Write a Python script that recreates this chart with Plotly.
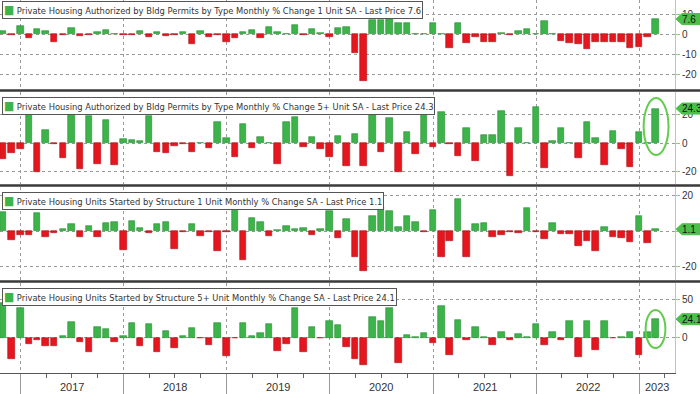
import plotly.graph_objects as go
from plotly.subplots import make_subplots
import pandas as pd

# ---------------- data ----------------
months = pd.date_range("2016-10-01", periods=77, freq="MS") + pd.offsets.MonthEnd(0)

permits_1unit = [1.5, -0.3, 4.3, -2.0, 2.5, 1.8, -3.7, -0.5, 3.0, -1.0, -0.3, 1.2, 2.2, 0.2, -0.2, -0.5,
                 1.7, -1.3, 1.3, -1.0, -0.3, 1.0, -5.0, 1.5, -1.3, -0.2, -4.0, -1.7, 1.0, 2.2, -2.0, 3.5,
                 1.0, 0.2, 4.5, -0.3, 2.5, 0.7, -1.3, 3.0, 3.5, -9.5, -23.3, 7.2, 7.2, 7.5, 5.5, 5.8,
                 0.2, 0.2, 5.5, 0.2, -6.7, 5.8, -4.5, -1.2, -4.0, -4.0, 0.5, -0.5, 1.7, 2.7, 0.2, 6.7,
                 0.2, -3.3, -4.5, -5.0, -7.5, -3.7, -3.7, -3.7, -3.7, -7.0, -6.2, -1.2, 7.6]

permits_5plus = [-11.3, -6.6, -4.0, 25.0, -20.0, 9.0, -0.3, -10.3, 24.0, -18.0, 19.3, -14.6, 16.5, -15.3,
                 2.8, 2.4, 1.6, 19.3, -5.9, -7.0, -1.6, -0.3, -6.1, 0.3, -3.0, 14.6, 4.0, -9.9, 13.6,
                 -3.0, 4.5, 0.2, -14.6, 14.6, 18.4, -2.8, 4.5, -4.0, -9.4, 4.9, -16.0, 6.4, -15.8, 22.0,
                 -5.9, 17.6, -20.0, 8.2, -7.5, 22.0, -2.4, 21.6, -0.5, -8.9, 11.0, -12.2, 5.9, 5.9, 22.4,
                 -23.0, 11.0, 0.3, 25.2, -17.6, 1.9, 10.6, 0.2, -10.1, 14.8, 4.0, -15.3, 8.7, -4.0,
                 -16.5, 8.2, 0.2, 24.3]

starts_1unit = [10.7, -4.9, -2.0, -2.0, 10.1, -3.2, -1.1, 1.1, 3.9, -3.2, 2.8, -3.2, 4.7, 5.3, -10.7, 6.0,
                2.0, -1.1, 3.9, 5.4, -10.1, -0.2, 3.9, -2.6, -0.2, -11.0, -0.2, 12.6, -16.1, 7.7, 5.0,
                -2.6, 0.5, 3.2, 1.5, 2.0, -2.3, 1.1, 11.1, -3.6, 6.9, -14.3, -22.3, 8.8, 13.5, 11.1, 2.6,
                8.3, 5.0, -0.2, 12.0, -14.3, -5.8, 18.2, -14.3, 4.1, 4.5, -3.4, -2.4, -0.2, -1.1, 13.3,
                -0.2, -4.5, 4.5, -1.7, -1.7, -8.3, -5.4, -10.9, 2.4, -3.2, -3.9, -6.2, 8.8, -6.8, 1.1]

starts_5plus = [45.0, -28.3, 38.3, -8.3, -3.0, -10.9, -10.9, 2.6, 20.9, -5.7, -18.7, 14.3, 11.3, -5.2, 2.6,
                19.6, -10.9, 17.4, -18.7, 9.1, -13.9, 2.6, 13.0, -1.0, -9.6, 18.7, -23.5, -0.5, 19.6,
                2.6, 5.7, 17.4, -17.4, -8.3, 38.3, -19.1, 14.3, -1.0, 22.2, 16.5, -12.6, -27.8, -35.7,
                26.5, 22.2, 38.3, -32.6, 3.5, 0.3, 5.7, -6.5, 41.7, -22.6, 23.0, -3.0, 13.5, 0.3, -9.6,
                7.8, -3.0, 4.3, 0.3, 17.8, -9.6, 7.0, -3.0, 21.3, -24.8, 21.3, -16.1, 22.2, -1.0, 0.3,
                7.8, -22.6, 7.0, 24.1]

titles = [
    "Private Housing Authorized by Bldg Permits by Type Monthly % Change 1 Unit SA - Last Price 7.6",
    "Private Housing Authorized by Bldg Permits by Type Monthly % Change 5+ Unit SA - Last Price 24.3",
    "Private Housing Units Started by Structure 1 Unit Monthly % Change SA - Last Price 1.1",
    "Private Housing Units Started by Structure 5+ Unit Monthly % Change SA - Last Price 24.1",
]
last_labels = ["7.6", "24.3", "1.1", "24.1"]
year_labels = ["2017", "2018", "2019", "2020", "2021", "2022", "2023"]
ytick_vals = [[10, 0, -10, -20], [20, 0, -20], [20, 0, -20], [50, 0]]
ytick_text = [["10", "0", "-10", "-20"], ["20", "0", "-20"], ["20", "", "-20"], ["50", "0"]]
series = [permits_1unit, permits_5plus, starts_1unit, starts_5plus]

# ---------------- styling / layout ----------------
W, H = 700, 394
ML, MR, MT, MB = 0, 25, 0, 21
PW, PH = W - ML - MR, H - MT - MB
GREEN = "#3cb44a"
RED = "#e5161e"
TAG = "#4cbf4a"
TEXT = "#333333"
FONT = "Liberation Sans Narrow, DejaVu Sans Condensed, Liberation Sans, sans-serif"

panel_px = [(0, 89), (92, 184), (187, 280), (283, 373)]
yranges = [[-27.35, 17.15], [-28.5, 35.9], [-27.5, 24.9], [-46, 71.2]]
xrange_ = ["2016-10-20", "2023-05-08"]
circle_panels = {1: (31.7, -8.2, 42, 46), 3: (36.0, -13.4, 35, 35)}

fig = make_subplots(rows=4, cols=1, shared_xaxes=True)

year_starts = [pd.Timestamp(f"{y}-01-01") for y in year_labels]

for k in range(4):
    vals = series[k]
    colors = [GREEN if v >= 0 else RED for v in vals]
    lcolors = ["#2a8a35" if v >= 0 else "#a80f15" for v in vals]
    fig.add_trace(go.Bar(x=months, y=vals, marker=dict(color=colors, line=dict(color=lcolors, width=0.6)),
                         width=23 * 86400000, showlegend=False, hoverinfo="x+y"), row=k + 1, col=1)
    t, b = panel_px[k]
    dom = [(PH - b) / PH, (PH - t) / PH]
    yname = "yaxis" if k == 0 else f"yaxis{k+1}"
    xname = "xaxis" if k == 0 else f"xaxis{k+1}"
    fig.layout[yname].update(domain=dom, range=yranges[k], side="right", tickvals=ytick_vals[k],
                             ticktext=ytick_text[k],
                             ticks="outside", ticklen=4, tickcolor="#8cc884", showline=True,
                             linecolor="#a8d8a0", linewidth=1, showgrid=True, gridcolor="#9a9a9a",
                             griddash="dot", gridwidth=1, zeroline=False,
                             tickfont=dict(size=10, color=TEXT, family="Liberation Sans, Arial, sans-serif"))
    fig.layout[xname].update(range=xrange_, type="date", tickvals=year_starts, showgrid=True,
                             gridcolor="#9a9a9a", griddash="dot", gridwidth=1, zeroline=False)
    if k < 3:
        fig.layout[xname].update(showticklabels=False, ticks="")
    else:
        fig.layout[xname].update(showticklabels=False, ticks="outside", ticklen=21, tickcolor="#999999",
                                 showline=True, linecolor="#555555", linewidth=1,
                                 minor=dict(ticks="outside", ticklen=4, dtick="M3", tick0="2017-01-01",
                                            tickcolor="#666666", showgrid=False))

    ppu = (b - t) / (yranges[k][1] - yranges[k][0])
    yref = "y" if k == 0 else f"y{k+1}"
    # legend box
    fig.add_annotation(xref="paper", yref="paper", x=2 / PW, y=(PH - t - (1 if k == 0 else 5)) / PH,
                       xanchor="left", yanchor="top", align="left", showarrow=False,
                       text=f'<span style="color:{GREEN};font-size:12px">■</span> ' + titles[k],
                       font=dict(size=9.3, color=TEXT, family=FONT),
                       bgcolor="white", bordercolor="#555555", borderwidth=1, borderpad=1)
    # last value tag
    v = vals[-1]
    hh = 5.5 / ppu
    x_tip, x_body, x_end = 676 / PW, 682 / PW, 701 / PW
    fig.add_shape(type="path", xref="paper", yref=yref,
                  path=f"M {x_tip} {v} L {x_body} {v+hh} L {x_end} {v+hh} L {x_end} {v-hh} L {x_body} {v-hh} Z",
                  fillcolor=TAG, line=dict(color=TAG, width=1), layer="above")
    fig.add_annotation(xref="paper", yref=yref, x=679.5 / PW, y=v, xanchor="left", yanchor="middle",
                       showarrow=False, text=last_labels[k],
                       font=dict(size=10, color="#111111", family="Liberation Sans, Arial, sans-serif"))
    if k in circle_panels:
        y0, y1, dl, dr = circle_panels[k]
        xref = "x" if k == 0 else f"x{k+1}"
        fig.add_shape(type="circle", xref=xref, yref=yref,
                      x0=months[-1] - pd.Timedelta(days=dl), x1=months[-1] + pd.Timedelta(days=dr),
                      y0=y1, y1=y0, line=dict(color="#62cc4e", width=2))

# panel separators
for ypx in [90.5, 185.5, 281.5]:
    fig.add_shape(type="line", xref="paper", yref="paper", x0=0, x1=W / PW, y0=(PH - ypx) / PH,
                  y1=(PH - ypx) / PH, line=dict(color="#3a3a3a", width=2.5), layer="above")

# year labels centered in visible portion of each year
x0r, x1r = pd.Timestamp(xrange_[0]), pd.Timestamp(xrange_[1])
for y in year_labels:
    a = max(pd.Timestamp(f"{y}-01-01"), x0r)
    bnd = min(pd.Timestamp(f"{int(y)+1}-01-01"), x1r)
    mid = a + (bnd - a) / 2
    fig.add_annotation(xref="x4", yref="paper", x=mid, y=(PH - 387.5) / PH, yanchor="middle",
                       showarrow=False, text=y,
                       font=dict(size=11, color=TEXT, family="Liberation Sans, Arial, sans-serif"))

fig.update_layout(width=W, height=H, margin=dict(l=ML, r=MR, t=MT, b=MB),
                  paper_bgcolor="white", plot_bgcolor="white", bargap=0, showlegend=False)

fig.write_html("out.html", config={"displayModeBar": False},
               post_script="document.body.style.margin='0';document.body.style.overflow='hidden';")
